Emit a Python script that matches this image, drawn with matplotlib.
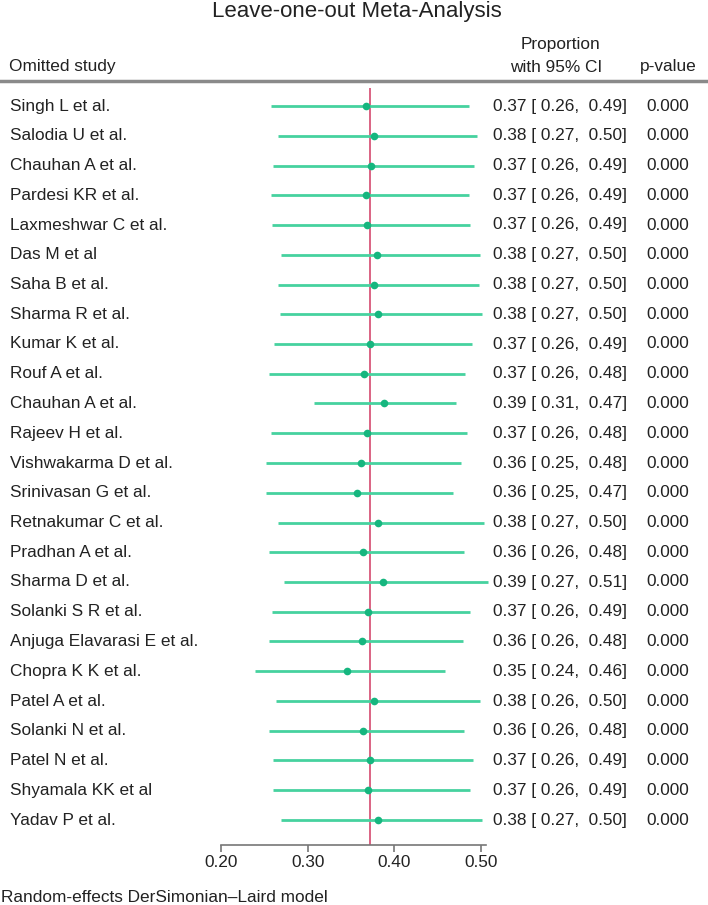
import matplotlib
matplotlib.use('Agg')
import matplotlib.pyplot as plt

plt.rcParams['font.family'] = ['Liberation Sans', 'DejaVu Sans']

# leave-one-out results
studies = ['Singh L et al.', 'Salodia U et al.', 'Chauhan A et al.', 'Pardesi KR et al.',
           'Laxmeshwar C et al.', 'Das M et al', 'Saha B et al.', 'Sharma R et al.',
           'Kumar K et al.', 'Rouf A et al.', 'Chauhan A et al.', 'Rajeev H et al.',
           'Vishwakarma D et al.', 'Srinivasan G et al.', 'Retnakumar C et al.',
           'Pradhan A et al.', 'Sharma D et al.', 'Solanki S R et al.',
           'Anjuga Elavarasi E et al.', 'Chopra K K et al.', 'Patel A et al.',
           'Solanki N et al.', 'Patel N et al.', 'Shyamala KK et al', 'Yadav P et al.']
est = [0.3674, 0.3767, 0.3728, 0.3674, 0.3690, 0.3801, 0.3770, 0.3809, 0.3720, 0.3651,
       0.3875, 0.3685, 0.3614, 0.3564, 0.3817, 0.3636, 0.3867, 0.3694, 0.3624, 0.3452,
       0.3770, 0.3636, 0.3720, 0.3694, 0.3817]
lo = [0.2577, 0.2654, 0.2604, 0.2577, 0.2593, 0.2689, 0.2662, 0.2681, 0.2612, 0.2558,
      0.3078, 0.2578, 0.2520, 0.2520, 0.2662, 0.2552, 0.2727, 0.2585, 0.2552, 0.2393,
      0.2631, 0.2552, 0.2597, 0.2597, 0.2693]
hi = [0.4864, 0.4952, 0.4922, 0.4864, 0.4875, 0.4991, 0.4972, 0.5010, 0.4895, 0.4818,
      0.4710, 0.4844, 0.4766, 0.4673, 0.5037, 0.4806, 0.5075, 0.4875, 0.4787, 0.4579,
      0.4991, 0.4806, 0.4902, 0.4876, 0.5010]
pvals = [0.000, 0.000, 0.000, 0.000, 0.000, 0.000, 0.000, 0.000, 0.000, 0.000,
         0.000, 0.000, 0.000, 0.000, 0.000, 0.000, 0.000, 0.000, 0.000, 0.000,
         0.000, 0.000, 0.000, 0.000, 0.000]
pooled = 0.3717
xticks = [0.20, 0.30, 0.40, 0.50]

W, H = 708, 905
fig = plt.figure(figsize=(W / 100, H / 100), dpi=100)

def fx(px):
    return px / W

def fy(py):
    return 1 - py / H

row0, step = 106, 29.75
ax_top, ax_bot = 88, 845
ax = fig.add_axes([fx(221), fy(ax_bot), fx(481) - fx(221), (ax_bot - ax_top) / H])
ax.set_xlim(0.2, 0.5)
ax.set_ylim((ax_bot - row0) / step, (ax_top - row0) / step)

line_c = '#46d29f'
dot_c = '#16b67f'
for i in range(len(studies)):
    ax.plot([lo[i], hi[i]], [i, i], color=line_c, lw=2.0, solid_capstyle='butt',
            clip_on=False, zorder=2)
    ax.plot(est[i], i, 'o', color=dot_c, ms=5.5, mec='none', clip_on=False, zorder=3)
ax.axvline(pooled, color='#d8577a', lw=1.3, zorder=1)

for s in ['top', 'right', 'left']:
    ax.spines[s].set_visible(False)
ax.spines['bottom'].set_bounds(0.2, 0.506)
ax.spines['bottom'].set_color('#777777')
ax.spines['bottom'].set_linewidth(1.2)
ax.set_yticks([])
ax.set_xticks(xticks)
ax.set_xticklabels(['%.2f' % t for t in xticks])
ax.tick_params(axis='x', length=5, width=1.2, color='#777777', labelsize=12.4,
               labelcolor='#222222', pad=2)

tc = '#222222'
fs = 12.4
fig.text(fx(357), fy(12), 'Leave-one-out Meta-Analysis', ha='center', va='center',
         fontsize=16, color=tc)
fig.text(fx(560), fy(44), 'Proportion', ha='center', va='center', fontsize=fs, color=tc)
fig.text(fx(9), fy(67), 'Omitted study', ha='left', va='center', fontsize=fs, color=tc)
fig.text(fx(556), fy(67), 'with 95% CI', ha='center', va='center', fontsize=fs, color=tc)
fig.text(fx(668), fy(67), 'p-value', ha='center', va='center', fontsize=fs, color=tc)
fig.add_artist(plt.Line2D([0, 1], [fy(81), fy(81)], color='#8a8a8a', lw=2.5))

for i, name in enumerate(studies):
    y = fy(row0 + i * step)
    fig.text(fx(10), y, name, ha='left', va='center', fontsize=fs, color=tc)
    fig.text(fx(627), y, '%.2f [%5.2f, %5.2f]' % (est[i], lo[i], hi[i]),
             ha='right', va='center', fontsize=fs, color=tc)
    fig.text(fx(668), y, '%.3f' % pvals[i], ha='center', va='center', fontsize=fs, color=tc)

fig.text(fx(1), fy(897), 'Random-effects DerSimonian\u2013Laird model', ha='left',
         va='center', fontsize=fs, color=tc)

fig.savefig('out.png', dpi=100)
